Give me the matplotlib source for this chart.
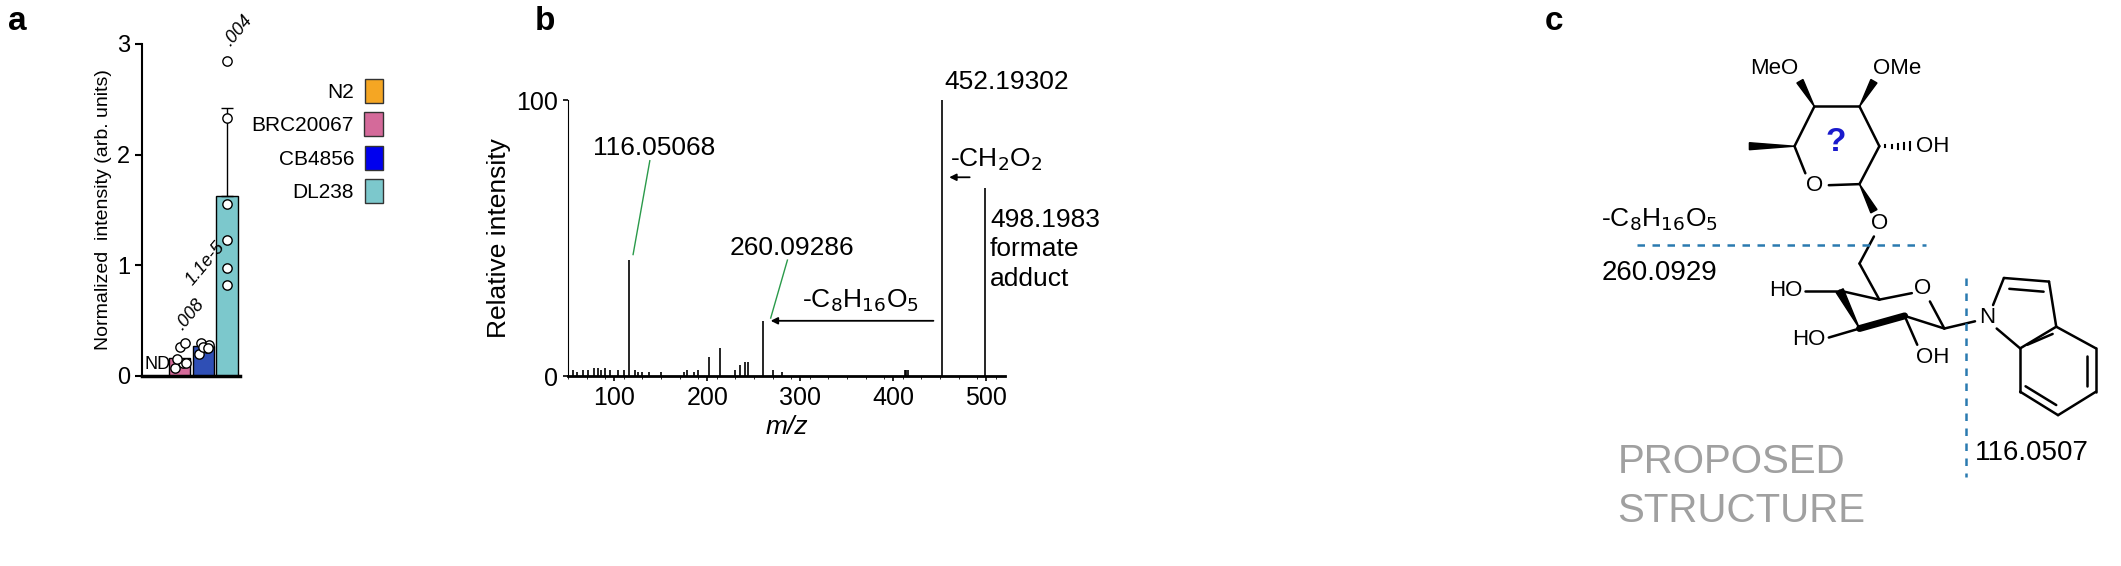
import numpy as np
import matplotlib.pyplot as plt
from matplotlib.patches import Polygon, Patch

plt.rcParams['font.family'] = ['Liberation Sans', 'DejaVu Sans']

# panel a data
strains = ['N2', 'BRC20067', 'CB4856', 'DL238']
colors = ['#f5a623', '#d46a9a', '#2f4fb5', '#7cc8cc']
legend_colors = ['#f5a623', '#d46a9a', '#0000ee', '#7cc8cc']
means = [0.0, 0.16, 0.27, 1.63]
sd_top = [None, None, None, 2.42]
pts_brc = [0.07, 0.12, 0.15, 0.12, 0.26, 0.30]
pts_cb = [0.20, 0.25, 0.30, 0.28, 0.26, 0.25]
pts_dl = [0.82, 0.98, 1.23, 1.55, 2.33, 2.85]
pvals = ['ND', '.008', '1.1e-5', '.004']

# panel b data
peak_mz = [116.05068, 260.09286, 452.19302, 498.1983, 214, 202, 178, 235, 240, 244, 230,
           55, 60, 66, 72, 78, 82, 86, 90, 95, 104, 110, 122, 125, 130, 137, 150, 175, 185,
           190, 270, 280, 412, 414, 416]
peak_int = [42, 20, 100, 68, 10, 7, 2, 4, 5, 5, 2,
            2, 1.5, 2, 2, 3, 3, 2, 3, 2, 2, 2, 2, 1.5, 1.5, 1.5, 1.5, 1.5, 1.5,
            2, 2, 1.5, 2, 2, 2]

W, H = 2121, 566
fig = plt.figure(figsize=(W / 100, H / 100), dpi=100)

def fx(px):
    return px / W

def fy(py):
    return 1 - py / H

# ---- panel a
axa = fig.add_axes([fx(142), fy(376), fx(240) - fx(142), fy(44) - fy(376)])
x = np.arange(4)
axa.bar(x, means, width=0.9, color=colors, edgecolor='black', linewidth=1)
axa.errorbar([3], [means[3]], yerr=[[0], [sd_top[3] - means[3]]], fmt='none',
             ecolor='black', capsize=4, elinewidth=1)
for xi, pts in zip([1, 2, 3], [pts_brc, pts_cb, pts_dl]):
    offs = [-0.2, 0.15, -0.1, 0.25, 0.0, 0.2] if xi < 3 else [0] * 6
    axa.scatter(xi + np.array(offs), pts, s=45, facecolor='white', edgecolor='black', zorder=3, linewidth=1)
axa.text(0.05, 0.03, pvals[0], ha='center', va='bottom', fontsize=13)
axa.text(0.68, 0.38, pvals[1], rotation=50, ha='left', va='bottom', fontsize=13, style='italic')
axa.text(1.1, 0.79, pvals[2], rotation=50, ha='left', va='bottom', fontsize=13, style='italic')
axa.text(2.7, 2.95, pvals[3], rotation=50, ha='left', va='bottom', fontsize=13, style='italic')
axa.set_xlim(-0.6, 3.55)
axa.set_ylim(0, 3)
axa.set_yticks([0, 1, 2, 3])
axa.set_xticks([])
axa.tick_params(axis='y', labelsize=17, width=1.5, length=5)
for s in ['top', 'right']:
    axa.spines[s].set_visible(False)
axa.spines['left'].set_linewidth(1.5)
axa.spines['bottom'].set_linewidth(2.5)
axa.set_ylabel('Normalized  intensity (arb. units)', fontsize=14)
handles = [Patch(facecolor=c, edgecolor='#333333') for c in legend_colors]
fig.legend(handles, strains, loc='upper right', bbox_to_anchor=(fx(402), fy(60)),
           frameon=False, markerfirst=False, fontsize=15, handlelength=0.9, handleheight=1.4,
           labelspacing=0.45, handletextpad=0.5)

# ---- panel b
axb = fig.add_axes([fx(568), fy(376), fx(1005) - fx(568), fy(100) - fy(376)])
axb.vlines(peak_mz, 0, peak_int, color='black', linewidth=1.2)
axb.set_xlim(50, 520)
axb.set_ylim(0, 100)
axb.set_yticks([0, 100])
axb.set_xticks([100, 200, 300, 400, 500])
axb.set_xticks(np.arange(50, 521, 20), minor=True)
axb.tick_params(labelsize=18, width=1.2)
for s in ['top', 'right']:
    axb.spines[s].set_visible(False)
axb.spines['bottom'].set_linewidth(2)
axb.set_ylabel('Relative intensity', fontsize=19)
axb.set_xlabel('m/z', fontsize=19, style='italic')
fs = 19
axb.text(143, 80, '116.05068', fontsize=fs, ha='center')
axb.plot([138, 120], [78, 44], color='#2a9a4a', linewidth=1)
axb.text(291, 44, '260.09286', fontsize=fs, ha='center')
axb.plot([286, 268], [42, 21], color='#2a9a4a', linewidth=1)
axb.text(455, 104, '452.19302', fontsize=fs, ha='left', clip_on=False)
axb.text(504, 61, '498.1983\nformate\nadduct', fontsize=fs, ha='left', va='top',
         linespacing=1.3, clip_on=False)
axb.text(461, 76, '-CH$_2$O$_2$', fontsize=fs, ha='left')
axb.annotate('', xy=(457, 72), xytext=(485, 72),
             arrowprops=dict(arrowstyle='-|>', color='black', lw=1.3))
axb.text(302, 25, '-C$_8$H$_{16}$O$_5$', fontsize=fs, ha='left')
axb.annotate('', xy=(265, 20), xytext=(446, 20),
             arrowprops=dict(arrowstyle='-|>', color='black', lw=1.3))

# ---- panel c (structure drawn in pixel coords)
axc = fig.add_axes([0, 0, 1, 1])
axc.set_xlim(0, W)
axc.set_ylim(H, 0)
axc.axis('off')

def P(zx, zy):
    return (1540 + zx / 2.77, zy / 2.77)

def bond(a, b, lw=1.8):
    (x1, y1), (x2, y2) = P(*a), P(*b)
    axc.plot([x1, x2], [y1, y2], color='black', linewidth=lw, solid_capstyle='round')

def wedge(a, b, w=7):
    (x1, y1), (x2, y2) = P(*a), P(*b)
    dx, dy = x2 - x1, y2 - y1
    n = np.hypot(dx, dy)
    ux, uy = -dy / n, dx / n
    axc.add_patch(Polygon([(x1, y1), (x2 + ux * w / 2, y2 + uy * w / 2),
                           (x2 - ux * w / 2, y2 - uy * w / 2)], color='black'))

def hashed(a, b, n=5, w=8):
    (x1, y1), (x2, y2) = P(*a), P(*b)
    for t in np.linspace(0.2, 1, n):
        xc, yc = x1 + (x2 - x1) * t, y1 + (y2 - y1) * t
        axc.plot([xc, xc], [yc - w * t / 2, yc + w * t / 2], color='black', linewidth=1.5)

def label(zx, zy, s, **kw):
    x0, y0 = P(zx, zy)
    kw.setdefault('fontsize', 16)
    axc.text(x0, y0, s, ha='center', va='center', **kw)

# top sugar ring
C1, C2, C3, C4, Or, C5 = (760, 295), (885, 295), (940, 405), (885, 510), (760, 515), (705, 405)
bond(C5, C1); bond(C1, C2); bond(C2, C3); bond(C3, C4)
bond(C4, (800, 513)); bond((735, 480), C5)
wedge(C1, (720, 225)); wedge(C2, (925, 225)); wedge(C5, (580, 405)); wedge(C4, (925, 585))
hashed(C3, (1025, 405))
label(760, 515, 'O'); label(650, 190, 'MeO'); label(990, 190, 'OMe'); label(1088, 405, 'OH')
label(820, 395, '?', color='#1a1acc', fontsize=24, fontweight='bold')
label(940, 620, 'O')
# bottom sugar
C5b, Ob, C1b, C2b, C3b, C4b = (940, 830), (1060, 800), (1120, 910), (1010, 875), (885, 910), (830, 805)
bond((925, 655), (885, 730)); bond((885, 730), C5b)
bond(C5b, (1030, 812)); bond((1080, 835), C1b); bond(C1b, C2b)
bond(C2b, C3b, lw=5); wedge(C3b, C4b, w=8)
bond(C4b, C5b); bond(C4b, (735, 805)); bond(C3b, (800, 935)); bond(C2b, (1045, 955))
bond(C1b, (1205, 890))
label(1060, 800, 'O'); label(680, 805, 'HO'); label(745, 940, 'HO'); label(1088, 990, 'OH')
# indole
N, I2, I3, I3a, I7a = (1240, 880), (1285, 770), (1410, 780), (1430, 905), (1330, 965)
I4, I5, I6, I7 = (1540, 965), (1540, 1085), (1435, 1150), (1330, 1085)
label(1240, 880, 'N')
bond((1255, 845), I2); bond(I2, I3); bond(I3, I3a); bond(I3a, I7a); bond(I7a, (1265, 910))
bond(I3a, I4); bond(I4, I5); bond(I5, I6); bond(I6, I7); bond(I7, I7a)
bond((1300, 800), (1395, 808)); bond((1515, 985), (1515, 1070))
bond((1345, 1070), (1430, 1122)); bond((1350, 955), (1420, 925))
# dashed cleavage lines
x1, y1 = P(270, 680); x2, _ = P(1070, 680)
axc.plot([x1, x2], [y1, y1], color='#2a7ab0', linestyle=(0, (3, 3)), linewidth=1.8)
xv, ya = P(1180, 770); _, yb = P(1180, 1320)
axc.plot([xv, xv], [ya, yb], color='#2a7ab0', linestyle=(0, (3, 3)), linewidth=1.8)
tx, ty = P(170, 610)
axc.text(tx, ty, '-C$_8$H$_{16}$O$_5$', fontsize=19, ha='left', va='center')
tx, ty = P(170, 755)
axc.text(tx, ty, '260.0929', fontsize=20, ha='left', va='center')
tx, ty = P(1205, 1255)
axc.text(tx, ty, '116.0507', fontsize=20, ha='left', va='center')
tx, ty = P(215, 1280)
axc.text(tx, ty, 'PROPOSED', fontsize=29, ha='left', va='center', color='#a0a0a0')
tx, ty = P(215, 1415)
axc.text(tx, ty, 'STRUCTURE', fontsize=29, ha='left', va='center', color='#a0a0a0')

# panel letters
for lx, lt in [(8, 'a'), (535, 'b'), (1545, 'c')]:
    axc.text(lx, 22, lt, fontsize=24, fontweight='bold', ha='left', va='center')

fig.savefig('out.png', dpi=100)
